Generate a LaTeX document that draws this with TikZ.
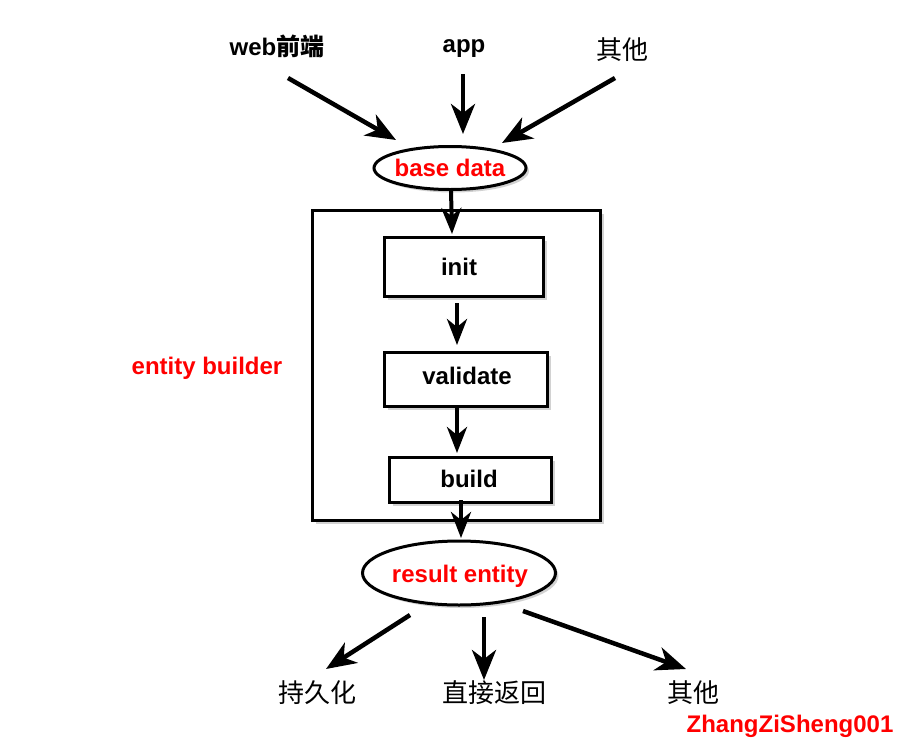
\documentclass[tikz,border=0pt]{standalone}
\usepackage{fontspec}
\setmainfont{Liberation Sans}
\newfontfamily\cjk{Noto Sans CJK SC}
\newfontfamily\cjkb{Noto Sans CJK SC Bold}
\usetikzlibrary{arrows.meta,shapes.geometric,shadows}
\begin{document}
\begin{tikzpicture}[x=1pt,y=-1pt,
  lbl/.style={font=\fontsize{24}{27}\selectfont\bfseries, inner sep=0pt},
  redlbl/.style={lbl, text=red},
  cjklbl/.style={font=\fontsize{26}{30}\selectfont\cjk, inner sep=0pt},
  shad/.style={drop shadow={opacity=0.35, shadow xshift=3pt, shadow yshift=-3pt}},
  stepbox/.style={draw, line width=3pt, fill=white, shad, anchor=north west},
  oval/.style={ellipse, draw, line width=3pt, fill=white, shad, inner sep=0pt},
  bigarrow/.style={line width=4.5pt, -{Stealth[length=30pt,width=24pt,inset=9pt]}},
  smallarrow/.style={line width=4pt, -{Stealth[length=26pt,width=20pt,inset=8pt]}}
]
\useasboundingbox (0,0) rectangle (900,750);
\fill[white] (0,0) rectangle (900,750);

% outer box
\node[stepbox, minimum width=288pt, minimum height=310pt] (outer) at (311,209) {};

% top labels
\node[lbl] (web) at (277,46) {web{\cjkb 前端}};
\node[lbl] (app) at (464,49) {app};
\node[cjklbl] (oth1) at (622,50) {其他};

% base data
\node[oval, minimum width=152pt, minimum height=43pt] (base) at (450,168) {};
\node[redlbl] (basetxt) at (450,168) {base data};

% inner boxes
\node[stepbox, minimum width=159pt, minimum height=59pt] (init) at (383,236) {};
\node[lbl] (inittxt) at (459,267) {init};
\node[stepbox, minimum width=163pt, minimum height=54pt] (valid) at (383,351) {};
\node[lbl] (validtxt) at (467,376) {validate};
\node[stepbox, minimum width=162pt, minimum height=45pt] (build) at (388,456) {};
\node[lbl] (buildtxt) at (469,479) {build};

\node[redlbl] (eb) at (207,368) {entity builder};

% result entity
\node[oval, minimum width=193pt, minimum height=64pt] (res) at (459,573) {};
\node[redlbl] (restxt) at (460,576) {result entity};

% bottom labels
\node[cjklbl] (persist) at (317,693) {持久化};
\node[cjklbl] (ret) at (494,693) {直接返回};
\node[cjklbl] (oth2) at (693,693) {其他};
\node[redlbl] (author) at (790,726) {ZhangZiSheng001};

% coordinates for arrow ends
\coordinate (w1) at (288,78);
\coordinate (w2) at (396,140);
\coordinate (a1) at (463,74);
\coordinate (a2) at (463,134);
\coordinate (o1) at (615,78);
\coordinate (o2) at (502,143);
\coordinate (b1) at (451,190);
\coordinate (b2) at (452,234);
\coordinate (i1) at (457,303);
\coordinate (i2) at (457,345);
\coordinate (v1) at (457,408);
\coordinate (v2) at (457,453);
\coordinate (u1) at (461,500);
\coordinate (u2) at (461,538);
\coordinate (r1) at (410,615);
\coordinate (r2) at (326,669);
\coordinate (s1) at (484,617);
\coordinate (s2) at (484,680);
\coordinate (t1) at (523,611);
\coordinate (t2) at (686,669);

\draw[bigarrow] (w1) -- (w2);
\draw[bigarrow] (a1) -- (a2);
\draw[bigarrow] (o1) -- (o2);
\draw[smallarrow] (b1) -- (b2);
\draw[smallarrow] (i1) -- (i2);
\draw[smallarrow] (v1) -- (v2);
\draw[smallarrow] (u1) -- (u2);
\draw[bigarrow] (r1) -- (r2);
\draw[bigarrow] (s1) -- (s2);
\draw[bigarrow] (t1) -- (t2);
\end{tikzpicture}
\end{document}
